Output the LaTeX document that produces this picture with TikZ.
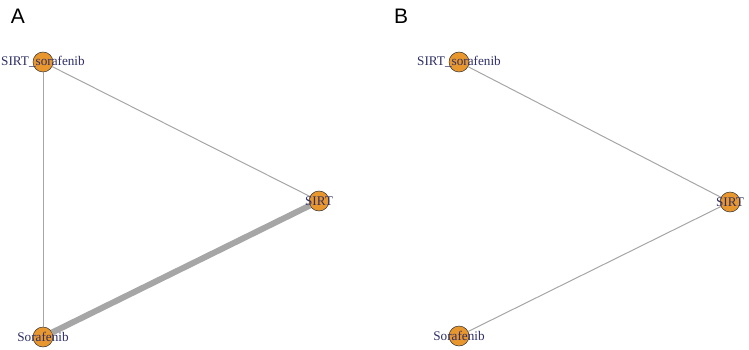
\documentclass[tikz,border=0pt]{standalone}
\usepackage{fontspec}
\setmainfont{Liberation Serif}
\newfontfamily\panelfont{Liberation Sans}
\definecolor{nodeorange}{HTML}{E8962E}
\definecolor{labelnavy}{HTML}{2E2E66}
\definecolor{edgegray}{HTML}{A6A6A6}
\begin{document}
\begin{tikzpicture}[x=1pt,y=-1pt,
  drug/.style={circle,draw=black!80,line width=0.5pt,fill=nodeorange,minimum size=20pt,inner sep=0pt},
  lbl/.style={text=labelnavy,font=\fontsize{13.2}{13.2}\selectfont,inner sep=0pt},
  thin edge/.style={draw=edgegray,line width=1pt},
  thick edge/.style={draw=edgegray,line width=6pt},
  panel/.style={font=\panelfont\fontsize{21}{21}\selectfont,inner sep=0pt}]
\useasboundingbox (0,0) rectangle (749,350);
% Panel A
\node[panel] (pA) at (18,16) {A};
\node[drug] (aSS) at (43,62) {};
\node[drug] (aS) at (43,337) {};
\node[drug] (aT) at (319,201) {};
\draw[thin edge] (aSS) -- (aS);
\draw[thin edge] (aSS) -- (aT);
\draw[thick edge] (aS) -- (aT);
\node[lbl] (aSSl) at (aSS) {SIRT\_sorafenib};
\node[lbl] (aSl) at (aS) {Sorafenib};
\node[lbl] (aTl) at (aT) {SIRT};
% Panel B
\node[panel] (pB) at (401,16) {B};
\node[drug] (bSS) at (459,62) {};
\node[drug] (bS) at (459,336) {};
\node[drug] (bT) at (730,202) {};
\draw[thin edge] (bSS) -- (bT);
\draw[thin edge] (bS) -- (bT);
\node[lbl] (bSSl) at (bSS) {SIRT\_sorafenib};
\node[lbl] (bSl) at (bS) {Sorafenib};
\node[lbl] (bTl) at (bT) {SIRT};
\end{tikzpicture}
\end{document}
